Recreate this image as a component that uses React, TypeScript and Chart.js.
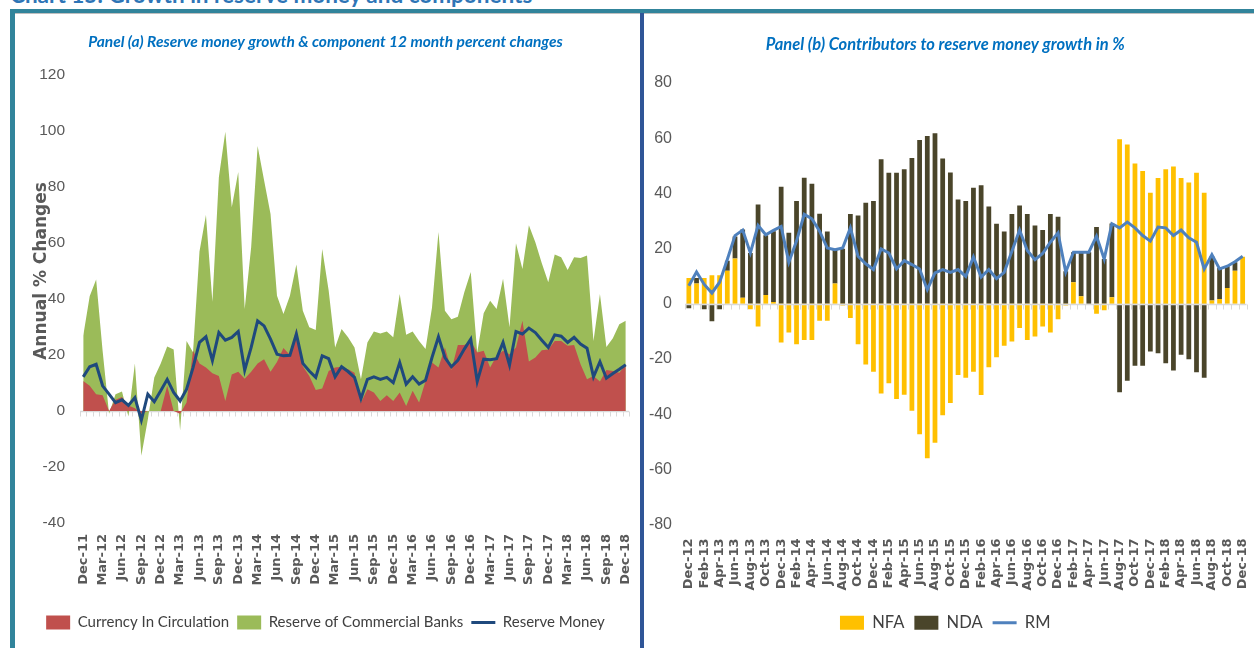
import React, { useEffect, useRef } from 'react';
import { Chart, registerables } from 'chart.js';

Chart.register(...registerables);

// ---------- categories ----------
const MONTH_NAMES = ['Jan', 'Feb', 'Mar', 'Apr', 'May', 'Jun', 'Jul', 'Aug', 'Sep', 'Oct', 'Nov', 'Dec'];
function monthRange(startMonth: number, startYear: number, count: number): string[] {
  const out: string[] = [];
  for (let k = 0; k < count; k++) {
    const m = (startMonth + k) % 12;
    const y = startYear + Math.floor((startMonth + k) / 12);
    out.push(MONTH_NAMES[m] + '-' + String(y % 100).padStart(2, '0'));
  }
  return out;
}
const panelAMonths = monthRange(11, 2011, 85); // Dec-11 .. Dec-18
const panelBMonths = monthRange(11, 2012, 73); // Dec-12 .. Dec-18

// ---------- Panel (a) series: 12-month % change ----------
const currencyInCirculation = [
  10.7, 9, 6, 5.6, 0, 4, 5, 2, 1, -1, 0, 0, 0, 9, 0, -1, 3, 21.5, 17, 15.5,
  13.5, 12.5, 3.6, 13, 14, 11.5, 14, 17, 18.5, 14, 17.5, 22.5, 20, 29.5, 16, 12.5, 7.5, 8, 14.3, 15.5,
  15.8, 14.9, 13.7, 3, 7.8, 6.6, 3.6, 5.6, 3.6, 6.6, 1.8, 7.2, 3, 10.7, 17.3, 15.5, 22.7, 14.6, 23.6, 23.6,
  25, 20.9, 21.5, 15.5, 19.7, 21.5, 20.3, 22.7, 32.2, 17.7, 19.1, 21.7, 22, 25, 25, 23.3, 23.6, 16.7, 11.3, 12.5,
  10.5, 14.6, 14.3, 13.7, 16.5,
];
const reserveOfCommercialBanks = [
  26.9, 41, 47, 21.5, -1, 6, 7, -2, 17, -16, -3, 12, 17, 23, 22, -7, 25, 21, 57, 70,
  39, 83.5, 99.7, 72.8, 85.4, 36.4, 58.5, 94.6, 82.4, 70.4, 41.2, 34.6, 41.2, 52.3, 35.8, 29.9, 28.9, 57.9, 43, 22.7,
  29.3, 26.3, 22.7, 11.3, 24.5, 28.4, 27.7, 28.4, 26.3, 41.8, 27.2, 28.4, 25, 22.1, 37, 63.9, 35.8, 32.8, 33.7, 42.4,
  49.6, 20.9, 34.9, 39.4, 36.4, 47.2, 29.9, 59.9, 50.7, 66.3, 60.3, 52.8, 46, 55.9, 54.9, 50.4, 54.9, 54.6, 55.5, 25,
  41.8, 22.9, 26, 31, 32.2,
];
const reserveMoneyA = [
  12.2, 15.8, 16.7, 9, 6, 3, 4, 2, 4.8, -3.3, 6, 3.3, 7.2, 11.3, 6.6, 3.6, 7.8, 15.5, 24.5, 26.5,
  18, 28, 25.3, 26.3, 28.4, 14.6, 22.7, 32.2, 30.4, 25.7, 20.3, 19.7, 19.9, 27.5, 17, 14.3, 12, 19.7, 18.7, 12.2,
  15.8, 14.1, 12, 4.4, 11.3, 12.2, 11.3, 12, 10.1, 17.3, 9.6, 12.2, 9.6, 11, 19.1, 26.5, 19.1, 15.8, 18.1, 22.1,
  25.7, 10.5, 18.5, 18.3, 18.7, 24.5, 16.4, 28.4, 27.5, 29.6, 28, 25.3, 22.7, 27.2, 26.7, 24.5, 26.3, 23.9, 22.4, 12.2,
  17.6, 11.7, 13.4, 14.9, 16.5,
];

// ---------- Panel (b) series: contributions, % ----------
const nfaContribution = [
  9.3, 7.3, 9.3, 10.3, 10.3, 12, 16.4, 2.2, -2, -8.2, 3.2, 0.6, -14, -10.4, -14.7, -13.1, -13.1, -6.2, -6.2, 7.3,
  -0.6, -5.2, -14.7, -22, -24.6, -32.5, -28.8, -34.5, -33, -38.8, -47.3, -56, -50.4, -40.4, -36, -25.8, -26.8, -24.6, -33.1, -23,
  -19.4, -15.2, -13.7, -8.8, -13.1, -11.9, -8.2, -10.4, -5.6, -0.6, 7.8, 2.7, 0, -3.6, -2.4, 2.4, 59.6, 57.7, 50.8, 48.1,
  40.2, 45.6, 48.7, 49.7, 45.6, 43.9, 47.5, 40.2, 1.2, 1.7, 5.7, 12, 17,
];
const ndaContribution = [
  -1.6, 2, -2, -6.3, -2, 3.6, 8, 24.7, 18.4, 36, 21.6, 25.7, 42.4, 25.7, 37.2, 45.7, 43.5, 32.6, 26.2, 12.3,
  19.9, 32.5, 32, 36.6, 37.2, 52.4, 47.5, 47.5, 48.7, 52.8, 59.3, 60.8, 61.8, 52.6, 47.6, 37.8, 37.2, 42, 42.9, 35.2,
  29, 26.2, 32.5, 35.6, 32.5, 28.4, 26.7, 32.5, 31.5, 11.8, 10.9, 16, 18.7, 27.8, 16.2, 26.7, -32.1, -27.9, -22.5, -22.5,
  -17.3, -17.9, -21.6, -24.2, -18.5, -20.1, -24.8, -26.8, 16, 11.3, 7.9, 3, -0.3,
];
const rmGrowthB = [
  6.5, 11.5, 7, 3.9, 7.8, 16, 24.7, 26.7, 18.4, 28.4, 25, 26.6, 28, 15, 22.7, 32.4, 30.8, 26.3, 20.2, 19.6,
  20.2, 27.5, 17.2, 14.5, 12.4, 19.9, 18.4, 12.6, 15.6, 14.2, 12.6, 5.1, 11.2, 12.4, 11.4, 12.4, 9.9, 17, 9.7, 12.4,
  9.1, 11.4, 19, 26.7, 19.3, 16, 18.2, 22.3, 25.7, 11.5, 18.7, 18.7, 18.7, 24.5, 16.2, 29, 27.5, 29.6, 27.5, 24.7,
  22.7, 27.8, 27.5, 24.7, 26.7, 23.9, 22.3, 12.6, 17.8, 12.6, 13.6, 15.2, 17.2,
];

const panelAYTitle = 'Annual % Changes';
const panelAYTitleAt = 50; // value on the y scale the title is centred on

// ---------- styling ----------
const HUMANIST = "Lato, 'Liberation Sans', sans-serif";
const ARIAL = "'Liberation Sans', Arial, sans-serif";
const WIDE = "'DejaVu Sans', sans-serif";
const GREY = '#595959';
const TITLE_BLUE = '#0070C0';

function zeroAxisPlugin(hook: string) {
  return {
    id: 'zeroAxis_' + hook,
    [hook](chart: any) {
      const { ctx, chartArea, scales } = chart;
      const xs = scales.x;
      const ys = scales.y;
      const y0 = Math.round(ys.getPixelForValue(0)) + 0.5;
      const n = chart.data.labels.length;
      const half = (xs.getPixelForValue(1) - xs.getPixelForValue(0)) / 2;
      ctx.save();
      ctx.strokeStyle = '#D9D9D9';
      ctx.lineWidth = 1.6;
      ctx.beginPath();
      ctx.moveTo(chartArea.left, y0);
      ctx.lineTo(chartArea.right, y0);
      ctx.stroke();
      ctx.lineWidth = 1;
      ctx.beginPath();
      for (let i = 0; i <= n; i++) {
        const xx = Math.round(xs.getPixelForValue(0) - half + i * 2 * half) + 0.5;
        ctx.moveTo(xx, y0);
        ctx.lineTo(xx, y0 + 5);
      }
      ctx.stroke();
      ctx.restore();
    },
  };
}

const yTitlePlugin = {
  id: 'yTitleAtValue',
  afterDraw(chart: any) {
    const { ctx, scales } = chart;
    const ys = scales.y;
    const cy = ys.getPixelForValue(panelAYTitleAt);
    ctx.save();
    ctx.translate(27, cy);
    ctx.rotate(-Math.PI / 2);
    ctx.font = `bold 17px ${WIDE}`;
    ctx.fillStyle = GREY;
    ctx.textAlign = 'center';
    ctx.textBaseline = 'middle';
    ctx.fillText(panelAYTitle, 0, 0);
    ctx.restore();
  },
};

function legendItems(kinds: string[], lineWidth: number) {
  return (chart: any) =>
    chart.data.datasets.map((ds: any, i: number) => ({
      text: ds.label,
      fillStyle: kinds[i] === 'line' ? ds.borderColor : ds.backgroundColor,
      strokeStyle: kinds[i] === 'line' ? ds.borderColor : ds.backgroundColor,
      lineWidth: kinds[i] === 'line' ? lineWidth : 0,
      pointStyle: kinds[i],
      hidden: false,
      datasetIndex: i,
      fontColor: '#404040',
    }));
}

const fixX = (h: number) => (s: any) => {
  s.height = h;
  s.paddingLeft = 0;
  s.paddingRight = 0;
};

function panelAConfig(): any {
  return {
    type: 'line',
    data: {
      labels: panelAMonths,
      datasets: [
        {
          label: 'Currency In Circulation',
          data: currencyInCirculation,
          backgroundColor: '#C0504D',
          borderColor: '#C0504D',
          borderWidth: 0,
          pointRadius: 0,
          fill: 'origin',
          order: 1,
        },
        {
          label: 'Reserve of Commercial Banks',
          data: reserveOfCommercialBanks,
          backgroundColor: '#9BBB59',
          borderColor: '#9BBB59',
          borderWidth: 0,
          pointRadius: 0,
          fill: 'origin',
          order: 2,
        },
        {
          label: 'Reserve Money',
          data: reserveMoneyA,
          borderColor: '#1F497D',
          backgroundColor: '#1F497D',
          borderWidth: 3,
          pointRadius: 0,
          fill: false,
          order: 0,
        },
      ],
    },
    options: {
      responsive: true,
      maintainAspectRatio: false,
      animation: false,
      layout: { padding: { left: 7, right: 11, top: 0, bottom: 8 } },
      plugins: {
        tooltip: { enabled: false },
        title: {
          display: true,
          text: 'Panel (a) Reserve money growth & component 12 month percent changes',
          color: TITLE_BLUE,
          font: { family: HUMANIST, size: 15.5, weight: 'bold', style: 'italic', lineHeight: 1.2 },
          padding: { top: 19.7, bottom: 23.7 },
        },
        legend: {
          position: 'bottom',
          labels: {
            usePointStyle: true,
            pointStyleWidth: 24,
            boxHeight: 14,
            padding: 8,
            color: '#404040',
            font: { family: HUMANIST, size: 15 },
            generateLabels: legendItems(['rect', 'rect', 'line'], 3),
            sort: (a: any, b: any) => a.datasetIndex - b.datasetIndex,
          },
        },
      },
      scales: {
        x: {
          type: 'category',
          offset: true,
          grid: { display: false, drawTicks: false },
          border: { display: false },
          afterFit: fixX(84),
          ticks: {
            autoSkip: false,
            minRotation: 90,
            maxRotation: 90,
            padding: 11,
            color: GREY,
            font: { family: WIDE, size: 13, weight: 'bold' },
            callback: (_v: any, i: number) => (i % 3 === 0 ? panelAMonths[i] : ''),
          },
        },
        y: {
          min: -40,
          max: 120,
          grid: { display: false, drawTicks: false },
          border: { display: false },
          afterFit: (s: any) => { s.width = 58; },
          ticks: { stepSize: 20, padding: 15, color: GREY, font: { family: ARIAL, size: 15.5 } },
        },
      },
    },
    plugins: [zeroAxisPlugin('beforeDatasetsDraw'), yTitlePlugin],
  };
}

function panelBConfig(): any {
  return {
    type: 'bar',
    data: {
      labels: panelBMonths,
      datasets: [
        {
          type: 'bar',
          label: 'NFA',
          data: nfaContribution,
          backgroundColor: '#FFC000',
          borderWidth: 0,
          stack: 'c',
          order: 1,
        },
        {
          type: 'bar',
          label: 'NDA',
          data: ndaContribution,
          backgroundColor: '#4A452A',
          borderWidth: 0,
          stack: 'c',
          order: 2,
        },
        {
          type: 'line',
          label: 'RM',
          data: rmGrowthB,
          borderColor: '#4F81BD',
          backgroundColor: '#4F81BD',
          borderWidth: 3,
          pointRadius: 0,
          fill: false,
          order: 0,
        },
      ],
    },
    options: {
      responsive: true,
      maintainAspectRatio: false,
      animation: false,
      layout: { padding: { left: 0, right: 7.5, top: 0, bottom: 7 } },
      datasets: { bar: { categoryPercentage: 0.62, barPercentage: 1 } },
      plugins: {
        tooltip: { enabled: false },
        title: {
          display: true,
          text: 'Panel (b) Contributors to reserve money growth in %',
          color: TITLE_BLUE,
          font: { family: HUMANIST, size: 16.5, weight: 'bold', style: 'italic', lineHeight: 1.2 },
          padding: { top: 22.1, bottom: 28.1 },
        },
        legend: {
          position: 'bottom',
          labels: {
            usePointStyle: true,
            pointStyleWidth: 24,
            boxHeight: 14,
            padding: 10,
            color: '#404040',
            font: { family: HUMANIST, size: 16.5 },
            generateLabels: legendItems(['rect', 'rect', 'line'], 3),
            sort: (a: any, b: any) => a.datasetIndex - b.datasetIndex,
          },
        },
      },
      scales: {
        x: {
          type: 'category',
          stacked: true,
          offset: true,
          grid: { display: false, drawTicks: false },
          border: { display: false },
          afterFit: fixX(80),
          ticks: {
            autoSkip: false,
            minRotation: 90,
            maxRotation: 90,
            padding: 14,
            color: GREY,
            font: { family: WIDE, size: 13, weight: 'bold' },
            callback: (_v: any, i: number) => (i % 2 === 0 ? panelBMonths[i] : ''),
          },
        },
        y: {
          stacked: true,
          min: -80,
          max: 80,
          grid: { display: false, drawTicks: false },
          border: { display: false },
          afterFit: (s: any) => { s.width = 41; },
          ticks: { stepSize: 20, padding: 13, color: GREY, font: { family: ARIAL, size: 16 } },
        },
      },
    },
    plugins: [zeroAxisPlugin('afterDatasetsDraw')],
  };
}

function ChartBox({ make, style }: { make: () => any; style: React.CSSProperties }) {
  const ref = useRef<HTMLCanvasElement | null>(null);
  useEffect(() => {
    if (!ref.current) return;
    const chart = new Chart(ref.current, make());
    return () => chart.destroy();
  }, []);
  return (
    <div style={{ position: 'absolute', ...style }}>
      <canvas ref={ref} />
    </div>
  );
}

export default function App() {
  return (
    <div
      style={{
        position: 'fixed',
        left: 0,
        top: 0,
        width: 1254,
        height: 648,
        background: '#ffffff',
        overflow: 'hidden',
      }}
    >
      <div
        style={{
          position: 'absolute',
          left: 10,
          top: -17,
          fontFamily: HUMANIST,
          fontWeight: 'bold',
          fontSize: 22.5,
          lineHeight: '23px',
          color: '#2E75B6',
          whiteSpace: 'nowrap',
        }}
      >
        Chart 15: Growth in reserve money and components
      </div>
      <div style={{ position: 'absolute', left: 10, top: 9, width: 1244, height: 4, background: '#31849B' }} />
      <div style={{ position: 'absolute', left: 15, top: 13, width: 1239, height: 1, background: '#BFBFBF' }} />
      <div style={{ position: 'absolute', left: 10, top: 9, width: 5, height: 639, background: '#31849B' }} />
      <div style={{ position: 'absolute', left: 640, top: 13, width: 4, height: 635, background: '#2F5597' }} />
      <ChartBox make={panelAConfig} style={{ left: 15, top: 13, width: 625, height: 635 }} />
      <ChartBox make={panelBConfig} style={{ left: 644, top: 13, width: 610, height: 635 }} />
    </div>
  );
}
